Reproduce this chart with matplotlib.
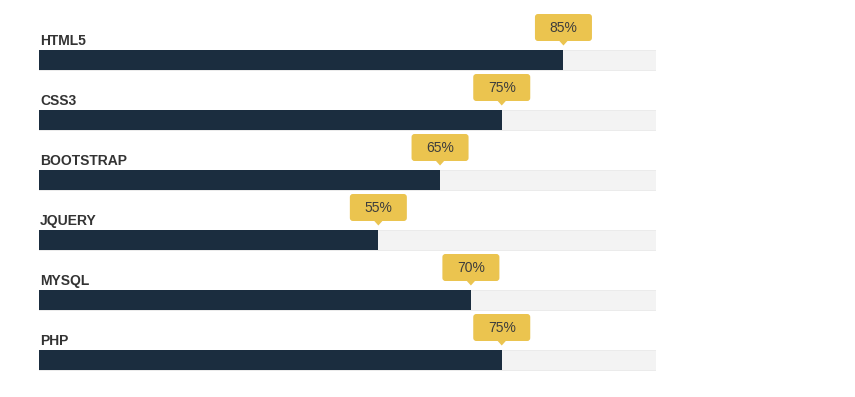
import matplotlib
matplotlib.use("Agg")
import matplotlib.pyplot as plt
import matplotlib.transforms as mtransforms
from matplotlib.patches import FancyBboxPatch, Polygon

skills = ["HTML5", "CSS3", "BOOTSTRAP", "JQUERY", "MYSQL", "PHP"]
percent = [85, 75, 65, 55, 70, 75]

BAR_COLOR = "#1b2d3f"
TRACK_COLOR = "#f3f3f3"
TIP_COLOR = "#ebc44f"
TEXT_COLOR = "#333333"

plt.rcParams["font.family"] = ["Liberation Sans", "DejaVu Sans"]

W, H, DPI = 855, 397, 100
fig = plt.figure(figsize=(W / DPI, H / DPI), dpi=DPI)
# axes spans the track width horizontally, full height vertically
ax = fig.add_axes([39 / W, 0, 617 / W, 1])
ax.set_xlim(0, 100)
# one row every 60 px, row centre at 60 px + 60 px * i
ax.set_ylim((H - 60) / 60, -1)
ax.axis("off")

rows = list(range(len(skills)))
bar_h = 20 / 60

ax.barh(rows, [100] * len(rows), height=bar_h, color=TRACK_COLOR,
        edgecolor="#e9e9e9", linewidth=0.6, zorder=1)
ax.barh(rows, percent, height=bar_h, color=BAR_COLOR, zorder=2)

for i, (name, p) in enumerate(zip(skills, percent)):
    ax.text(0.2, i - 15 / 60, name, fontsize=10, fontweight="bold",
            color=TEXT_COLOR, ha="left", va="baseline")

    # tooltip drawn in pixel offsets (0.01 in) from the bar end
    top = i - bar_h / 2
    tr = fig.dpi_scale_trans + mtransforms.ScaledTranslation(p, top, ax.transData)
    box = FancyBboxPatch((-0.285, 0.09), 0.57, 0.27,
                         boxstyle="round,pad=0,rounding_size=0.03",
                         facecolor=TIP_COLOR, edgecolor="none",
                         transform=tr, zorder=3)
    ax.add_patch(box)
    tri = Polygon([(-0.045, 0.095), (0.045, 0.095), (0, 0.045)], closed=True,
                  facecolor=TIP_COLOR, edgecolor="none", transform=tr, zorder=3)
    ax.add_patch(tri)
    ax.text(0, 0.225, f"{p}%", transform=tr, fontsize=10, color="#3d3d3d",
            ha="center", va="center", zorder=4)

fig.savefig("out.png", dpi=DPI, facecolor="white")
